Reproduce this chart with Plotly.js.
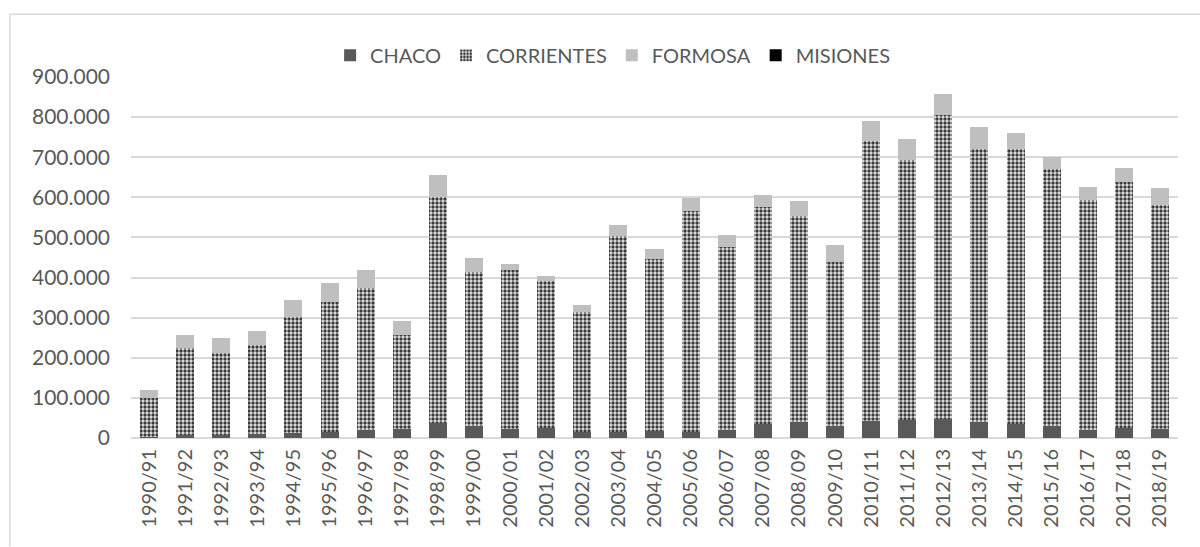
<!DOCTYPE html>
<html>
<head>
<meta charset="utf-8">
<script src="https://cdn.plot.ly/plotly-3.0.1.min.js"></script>
<style>
  html, body { margin: 0; padding: 0; background: #fff; }
  #grafico { width: 1200px; height: 547px; }
</style>
</head>
<body>
<div id="grafico"></div>
<script>
// Campañas
const campanias = ['1990/91', '1991/92', '1992/93', '1993/94', '1994/95', '1995/96', '1996/97',
    '1997/98', '1998/99', '1999/00', '2000/01', '2001/02', '2002/03', '2003/04', '2004/05',
    '2005/06', '2006/07', '2007/08', '2008/09', '2009/10', '2010/11', '2011/12', '2012/13',
    '2013/14', '2014/15', '2015/16', '2016/17', '2017/18', '2018/19'];

// Valores por provincia
const chaco = [3000, 7000, 7000, 10000, 12000, 15000, 19000, 22000, 38000, 30000, 22000, 24000,
    15000, 14000, 18000, 14000, 21000, 34000, 40000, 31000, 42000, 46000, 47000, 39000, 35000,
    31000, 21000, 26000, 22000];
const corrientes = [97000, 217000, 206000, 222000, 290000, 325000, 356000, 236000, 562000, 385000,
    398000, 368000, 300000, 489000, 428000, 551000, 454000, 543000, 513000, 409000, 698000, 647000,
    758000, 681000, 685000, 639000, 572000, 612000, 558000];
const formosa = [20000, 34000, 37000, 36000, 41000, 47000, 45000, 34000, 55000, 34000, 13000, 12000,
    16000, 27000, 26000, 33000, 32000, 28000, 39000, 41000, 50000, 53000, 53000, 55000, 40000,
    31000, 34000, 36000, 44000];
const misiones = [0, 0, 0, 0, 0, 0, 0, 0, 0, 0, 0, 0, 0, 0, 0, 0, 0, 0, 0, 0, 0, 0, 0, 0, 0, 0, 0, 0, 0];

const GRAF = document.getElementById('grafico');

const data = [
    { x: campanias, y: chaco, name: 'CHACO', type: 'bar', marker: { color: '#595959' } },
    {
        x: campanias, y: corrientes, name: 'CORRIENTES', type: 'bar',
        marker: {
            color: '#9a9a9a',
            pattern: { shape: '.', fgcolor: '#3a3a3a', bgcolor: '#e6e6e6', size: 4, solidity: 0.55 }
        }
    },
    { x: campanias, y: formosa, name: 'FORMOSA', type: 'bar', marker: { color: '#bfbfbf' } },
    { x: campanias, y: misiones, name: 'MISIONES', type: 'bar', marker: { color: '#000000' } }
];

const layout = {
    width: 1200,
    height: 547,
    barmode: 'stack',
    bargap: 0.5,
    separators: ',.',
    paper_bgcolor: '#ffffff',
    plot_bgcolor: '#ffffff',
    margin: { l: 131, r: 22, t: 77, b: 109 },
    font: { family: 'Lato, Carlito, Open Sans, sans-serif', color: '#595959', size: 20 },
    showlegend: true,
    legend: {
        orientation: 'h', x: 0.46, xanchor: 'center', y: 1.06, yanchor: 'middle',
        font: { size: 20, color: '#595959' }, traceorder: 'normal', itemwidth: 30
    },
    xaxis: {
        type: 'category', tickangle: -90, showgrid: false, showline: false, ticks: '',
        tickfont: { size: 20 }, ticklabelstandoff: 6
    },
    yaxis: {
        range: [0, 900000], dtick: 100000, tickformat: ',d', gridcolor: '#d9d9d9', gridwidth: 1.5,
        zeroline: true, zerolinecolor: '#d9d9d9', zerolinewidth: 1.5, ticks: '', showline: false,
        tickfont: { size: 21 }, ticklabelstandoff: 20
    },
    shapes: [
        { type: 'line', xref: 'paper', yref: 'paper', x0: -0.1157, x1: 1.1, y0: 1.174, y1: 1.174, line: { color: '#d9d9d9', width: 1.5 } },
        { type: 'line', xref: 'paper', yref: 'paper', x0: -0.1157, x1: -0.1157, y0: 1.174, y1: -0.3, line: { color: '#d9d9d9', width: 1.5 } }
    ]
};

Plotly.newPlot(GRAF, data, layout, { displayModeBar: false });
</script>
</body>
</html>
